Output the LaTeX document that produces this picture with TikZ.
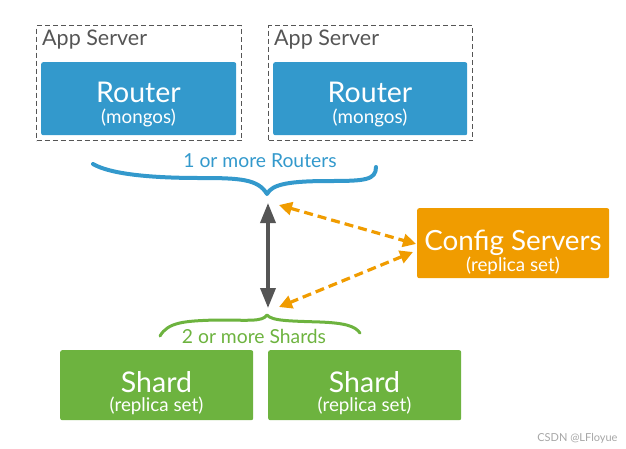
\documentclass[tikz,border=0pt]{standalone}
\usepackage{fontspec}
\setmainfont{Lato}
\usetikzlibrary{arrows.meta}
\definecolor{rblue}{HTML}{3399CC}
\definecolor{corange}{HTML}{F09C00}
\definecolor{sgreen}{HTML}{6DB33F}
\definecolor{dgray}{HTML}{555555}
\tikzset{
  appbox/.style={draw=dgray, line width=1.3pt, dash pattern=on 5pt off 3pt, anchor=north west, inner sep=0pt},
  fillbox/.style={anchor=north west, rounded corners=2pt, inner sep=0pt},
  bigtxt/.style={anchor=base, text=white, inner sep=0pt, font=\fontsize{28.5}{30}\selectfont},
  smalltxt/.style={anchor=base, text=white, inner sep=0pt, font=\fontsize{18.8}{20}\selectfont},
  apptxt/.style={anchor=base west, text=dgray, font=\fontsize{21.5}{22}\selectfont, inner sep=0pt},
  bracetxt/.style={anchor=base, inner sep=0pt, font=\fontsize{19.3}{20}\selectfont},
  oarrow/.style={corange, line width=3.2pt, dash pattern=on 9pt off 5pt, {Triangle[width=13pt,length=13pt]}-{Triangle[width=13pt,length=13pt]}},
}
\begin{document}
\begin{tikzpicture}[x=1pt,y=-1pt]
\useasboundingbox (0,0) rectangle (626,448);
% app servers
\node[appbox, minimum width=205pt, minimum height=115pt] (app1) at (36,25) {};
\node[appbox, minimum width=204pt, minimum height=115pt] (app2) at (268,25) {};
\node[apptxt] (app1t) at (42,45) {App Server};
\node[apptxt] (app2t) at (274,45) {App Server};
% routers
\node[fillbox, fill=rblue, minimum width=195pt, minimum height=73pt] (r1) at (41,62) {};
\node[fillbox, fill=rblue, minimum width=194pt, minimum height=73pt] (r2) at (273,62) {};
\node[bigtxt] (r1a) at (138.5,102) {Router};
\node[smalltxt] (r1b) at (138.5,123) {(mongos)};
\node[bigtxt] (r2a) at (370,102) {Router};
\node[smalltxt] (r2b) at (370,123) {(mongos)};
% routers brace
\node[bracetxt, text=rblue] (rlab) at (260,167) {1 or more Routers};
\draw[rblue, line width=4pt, line cap=round, line join=round]
  (93,164) .. controls (110,174) and (150,178) .. (200,178)
  .. controls (240,178) and (258,179) .. (267,194)
  .. controls (272,184) and (290,181) .. (330,181)
  .. controls (365,181) and (376,180) .. (376,167);
\coordinate (rtip) at (267,195);
% shards brace
\node[bracetxt, text=sgreen] (slab) at (254,343) {2 or more Shards};
\draw[sgreen, line width=3pt, line cap=round, line join=round]
  (160,336) .. controls (168,322) and (185,321) .. (215,320)
  .. controls (250,320) and (262,322) .. (267,315)
  .. controls (272,321) and (290,321) .. (320,322)
  .. controls (345,323) and (355,326) .. (360,333);
\coordinate (stip) at (267,315);
% config servers
\node[fillbox, fill=corange, minimum width=192pt, minimum height=70pt] (cfg) at (417,208) {};
\node[bigtxt, font=\fontsize{27.8}{30}\selectfont] (cfga) at (513,250) {Config Servers};
\node[smalltxt] (cfgb) at (513,271) {(replica set)};
% shards
\node[fillbox, fill=sgreen, minimum width=193pt, minimum height=70pt] (s1) at (60,350) {};
\node[fillbox, fill=sgreen, minimum width=193pt, minimum height=70pt] (s2) at (268,350) {};
\node[bigtxt] (s1a) at (156.5,392) {Shard};
\node[smalltxt] (s1b) at (156.5,411) {(replica set)};
\node[bigtxt] (s2a) at (364.5,392) {Shard};
\node[smalltxt] (s2b) at (364.5,411) {(replica set)};
% arrows
\coordinate (ga) at (268,203);
\coordinate (gb) at (268,308);
\draw[dgray, line width=3.5pt, {Triangle[width=15pt,length=20pt]}-{Triangle[width=15pt,length=20pt]}] (ga) -- (gb);
\coordinate (o1a) at (279,205);
\coordinate (o1b) at (416,244);
\coordinate (o2a) at (413,252);
\coordinate (o2b) at (279,307);
\draw[oarrow] (o1a) -- (o1b);
\draw[oarrow] (o2a) -- (o2b);
% watermark
\node[text=black!35, font=\fontsize{11}{12}\selectfont, anchor=east] (wm) at (621,438) {CSDN @LFloyue};
\end{tikzpicture}
\end{document}
